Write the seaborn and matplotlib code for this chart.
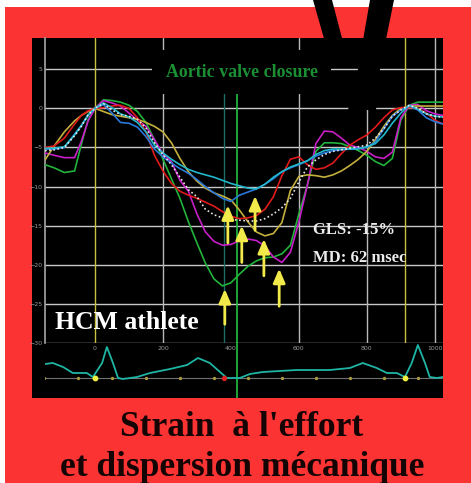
import numpy as np
import pandas as pd
import matplotlib
matplotlib.use("Agg")
import matplotlib.pyplot as plt
import seaborn as sns
from matplotlib.patches import Rectangle, Polygon

# time axis (ms) shared by all strain curves
t_ms = [-147, -120, -90, -60, -40, -20, 0, 25, 50, 75, 100, 125, 150, 175, 200,
        225, 250, 275, 300, 325, 350, 375, 400, 425, 450, 475, 500, 525, 550,
        575, 600, 625, 650, 675, 700, 725, 750, 775, 800, 825, 850, 875, 900,
        925, 950, 975, 1000, 1024]

# segmental longitudinal strain (%)
green = [-7.2, -7.6, -8.2, -8.0, -4.6, -1.4, 0, 1.1, 1.0, 0.8, 0.4, -0.4, -1.8, -4.0, -6.5,
         -9.0, -11.5, -14.5, -17.2, -19.8, -21.8, -22.7, -22.3, -21.2, -20.2, -19.5, -19.1, -19.0, -18.6,
         -17.5, -13.5, -9.8, -5.5, -4.4, -4.4, -4.5, -4.9, -5.4, -6.0, -6.8, -7.3, -6.4, -1.5,
         0.4, 0.8, 0.8, 0.8, 0.8]
magenta = [-5.7, -6.0, -6.3, -6.3, -4.2, -1.6, 0, 1.0, 0.7, 0.3, -0.6, -1.5, -2.3, -4.0, -5.8,
           -6.8, -9.2, -10.6, -13.5, -15.8, -17.0, -17.5, -17.4, -16.9, -16.7, -16.9, -17.6, -19.0, -19.7,
           -18.4, -14.5, -9.8, -4.5, -2.9, -3.0, -3.8, -4.7, -5.0, -5.5, -6.2, -6.4, -5.6, -1.2,
           0.4, 0.5, -0.3, -0.7, -0.9]
yellow = [-6.6, -4.8, -3.0, -1.6, -0.9, -0.4, 0, -0.4, -0.8, -1.0, -1.2, -1.4, -1.8, -2.3, -3.0,
          -4.4, -6.4, -8.1, -9.3, -10.2, -10.8, -11.2, -11.7, -13.0, -14.5, -15.8, -16.3, -16.0, -14.6,
          -10.5, -8.7, -8.5, -8.6, -8.8, -8.5, -8.0, -7.3, -6.5, -5.5, -4.0, -2.3, -0.9, 0.0,
          0.3, 0.3, 0.3, 0.3, 0.3]
red = [-5.0, -4.8, -3.8, -2.0, -0.9, -0.3, 0, 0.1, 0.3, 0.4, 0.0, -1.2, -3.0, -6.0, -8.0,
       -9.6, -10.6, -11.1, -11.5, -12.0, -12.5, -13.2, -13.8, -14.1, -14.0, -13.7, -12.9, -11.3, -8.6,
       -6.5, -6.2, -7.2, -7.8, -7.6, -7.0, -5.8, -4.7, -4.0, -3.4, -2.4, -1.2, -0.2, 0.1,
       0.1, 0.0, -0.6, -1.5, -2.0]
blue = [-5.2, -5.2, -5.0, -3.3, -2.2, -0.9, 0, 0.5, -0.6, -1.8, -1.9, -2.4, -3.6, -5.2, -6.2,
        -7.0, -7.7, -8.3, -9.1, -10.0, -10.8, -11.5, -11.9, -11.1, -10.7, -10.3, -9.7, -9.0, -8.1,
        -7.6, -7.2, -6.7, -6.1, -5.7, -5.4, -5.3, -5.2, -5.1, -5.0, -4.3, -2.6, -1.0, -0.2,
        0.3, -0.2, -1.2, -1.7, -2.0]
cyan = [-5.1, -5.1, -4.9, -3.4, -2.2, -0.8, 0, 0.7, 0.1, -0.7, -1.1, -1.8, -3.0, -4.7, -5.7,
        -6.5, -7.2, -7.8, -8.2, -8.5, -8.8, -9.2, -9.6, -9.9, -10.2, -10.3, -9.7, -8.8, -8.1,
        -7.5, -7.1, -6.7, -5.9, -5.4, -5.2, -5.2, -5.2, -5.2, -4.9, -4.5, -3.4, -1.9, -0.6,
        0.4, -0.1, -0.7, -1.0, -1.1]
average = [-5.4, -5.3, -5.0, -3.5, -2.3, -0.8, 0, 0.6, -0.2, -0.8, -1.0, -1.4, -2.5, -4.4, -5.9,
           -7.2, -8.8, -10.4, -11.3, -12.9, -13.6, -14.0, -14.2, -14.3, -14.4, -14.4, -14.1, -13.5, -12.7,
           -11.5, -9.4, -7.5, -6.6, -5.9, -5.5, -5.3, -5.1, -4.9, -4.7, -3.8, -2.6, -1.0, -0.2,
           0.4, 0.0, -0.7, -1.0, -1.1]

# peak-strain arrows
arrow_t = [391, 432, 471, 497, 542, 382]
arrow_tip = [-12.4, -15.0, -11.2, -16.7, -20.5, -23.1]
arrow_tail = [-17.2, -19.7, -15.6, -21.4, -25.3, -27.6]

# ECG trace
ecg_t = [-147, -124, -94, -65, -44, -24, -6, 21, 35, 53, 68, 82, 124, 162, 221, 271, 303,
         338, 368, 388, 426, 456, 494, 594, 691, 750, 788, 829, 859, 888, 912, 932, 950,
         971, 985, 1006, 1024]
ecg_amp = [14, 15, 11, 5, 5, 5, 1, 15, 31, 15, 0, -1, 1, 5, 9, 13, 20,
           15, 6, 0, 0, 4, 6, 8, 8, 10, 15, 10, 5, 5, 1, 15, 33,
           15, 1, 0, 1]
ecg_marks = [-150, -50, 50, 150, 250, 350, 450, 550, 650, 750, 850, 950]

y_ticks = [5, 0, -5, -10, -15, -20, -25, -30]
x_ticks = [0, 200, 400, 600, 800, 1000]

sns.set_theme(style="dark")
plt.rcParams["font.family"] = ["DejaVu Sans"]

W, H = 471, 483
fig = plt.figure(figsize=(W / 100, H / 100), dpi=100)
fig.patch.set_facecolor("white")


def fx(x):
    return x / W


def fy(y):
    return 1 - y / H


# red poster + black panel
fig.add_artist(Rectangle((fx(5), 0), fx(W) - fx(5), fy(7), transform=fig.transFigure,
                         facecolor="#fb3333", edgecolor="none", zorder=-3))
fig.add_artist(Rectangle((fx(32), fy(398)), (443 - 32) / W, (398 - 38) / H, transform=fig.transFigure,
                         facecolor="black", edgecolor="none", zorder=-2))

ax = fig.add_axes([fx(45), fy(343), (443 - 45) / W, (343 - 38) / H])
ax.set_facecolor("none")

df = pd.DataFrame({
    "t": t_ms * 6,
    "strain": green + magenta + yellow + red + blue + cyan,
    "segment": sum([[n] * len(t_ms) for n in ["green", "magenta", "yellow", "red", "blue", "cyan"]], []),
})
pal = {"green": "#22b43c", "magenta": "#c81ec8", "yellow": "#c4b03c",
       "red": "#e01a1a", "blue": "#2a78d8", "cyan": "#22b8cc"}
sns.lineplot(data=df, x="t", y="strain", hue="segment", palette=pal, estimator=None,
             linewidth=1.2, legend=False, ax=ax, zorder=3)
sns.lineplot(x=t_ms, y=average, color="#e6e6e6", linewidth=1.2, linestyle=(0, (1, 1.5)),
             ax=ax, zorder=4)

ax.set_xlim(-147, 1024)
ax.set_ylim(-30, 9.0)
ax.set_yticks(y_ticks)
ax.set_xticks(x_ticks)
ax.grid(False)
for v in y_ticks:
    ax.axhline(v, color="#c8c8c8", lw=1.0, zorder=1)
for v in [200, 600, 800, 1000]:
    ax.axvline(v, color="#b8b8b8", lw=1.0, zorder=1)
ax.axvline(0, color="#c8c040", lw=1.0, zorder=2)
ax.axvline(912, color="#c8c040", lw=1.0, zorder=2)
ax.vlines(380, -30, 2.6, color="#1c6e66", lw=1.0, zorder=2)
ax.vlines(417, -30, 2.6, color="#22c040", lw=1.2, zorder=2)
for s in ["top", "right", "bottom"]:
    ax.spines[s].set_visible(False)
ax.spines["left"].set_color("#a0a0a0")
ax.tick_params(length=0, labelsize=4.5, labelcolor="#9a9a9a", pad=2)
ax.set_xlabel("")
ax.set_ylabel("")

for t, tip, tail in zip(arrow_t, arrow_tip, arrow_tail):
    ax.annotate("", xy=(t, tip), xytext=(t, tail),
                arrowprops=dict(arrowstyle="-|>,head_width=0.3,head_length=0.7",
                                color="#f2ea4a", lw=2.0, shrinkA=0, shrinkB=0), zorder=6)

serif = ["Liberation Serif", "DejaVu Serif"]
ax.text(432, 4.6, "Aortic valve closure", ha="center", va="center", color="#1a8f34",
        fontsize=12.9, fontweight="bold", family=serif, zorder=5,
        bbox=dict(boxstyle="square,pad=0.75", facecolor="black", edgecolor="none"))
ax.text(641, -15.6, "GLS: -15%", ha="left", va="center", color="#ececec",
        fontsize=12, fontweight="bold", family=serif, zorder=7)
ax.text(641, -19.1, "MD: 62 msec", ha="left", va="center", color="#ececec",
        fontsize=12, fontweight="bold", family=serif, zorder=7)
ax.text(-118, -27.4, "HCM athlete", ha="left", va="center", color="white",
        fontsize=18.5, fontweight="bold", family=serif, zorder=7)

# ECG strip
ax2 = fig.add_axes([fx(45), fy(398), (443 - 45) / W, (398 - 343) / H])
ax2.set_facecolor("none")
ax2.axhline(0, color="#707070", lw=0.8, zorder=1)
sns.lineplot(x=ecg_t, y=ecg_amp, color="#1fb5a5", linewidth=1.3, ax=ax2, zorder=3)
ax2.scatter(ecg_marks, [0] * len(ecg_marks), s=2, color="#a89a3a", zorder=2)
ax2.scatter([0, 912], [0, 0], s=10, color="#f0f040", zorder=4)
ax2.scatter([380], [0], s=8, color="#e02020", zorder=4)
ax2.axvline(417, color="#22c040", lw=1.2, zorder=2)
ax2.set_xlim(-147, 1024)
ax2.set_ylim(-20, 35)
ax2.axis("off")

# hanging cords
fig.add_artist(Polygon([(fx(313), fy(0)), (fx(332), fy(0)), (fx(343), fy(42)), (fx(325), fy(42))],
                       closed=True, transform=fig.transFigure, facecolor="black",
                       edgecolor="none", zorder=10))
fig.add_artist(Polygon([(fx(370), fy(0)), (fx(394), fy(0)), (fx(380), fy(69)), (fx(376), fy(110)),
                        (fx(348), fy(110)), (fx(358), fy(69))],
                       closed=True, transform=fig.transFigure, facecolor="black",
                       edgecolor="none", zorder=10))

fig.text(fx(242), fy(428), "Strain  à l'effort", ha="center", va="center", color="#140404",
         fontsize=25.5, fontweight="bold", family=serif)
fig.text(fx(242), fy(467), "et dispersion mécanique", ha="center", va="center", color="#140404",
         fontsize=25.5, fontweight="bold", family=serif)

fig.savefig("out.png", dpi=100, facecolor=fig.get_facecolor())
